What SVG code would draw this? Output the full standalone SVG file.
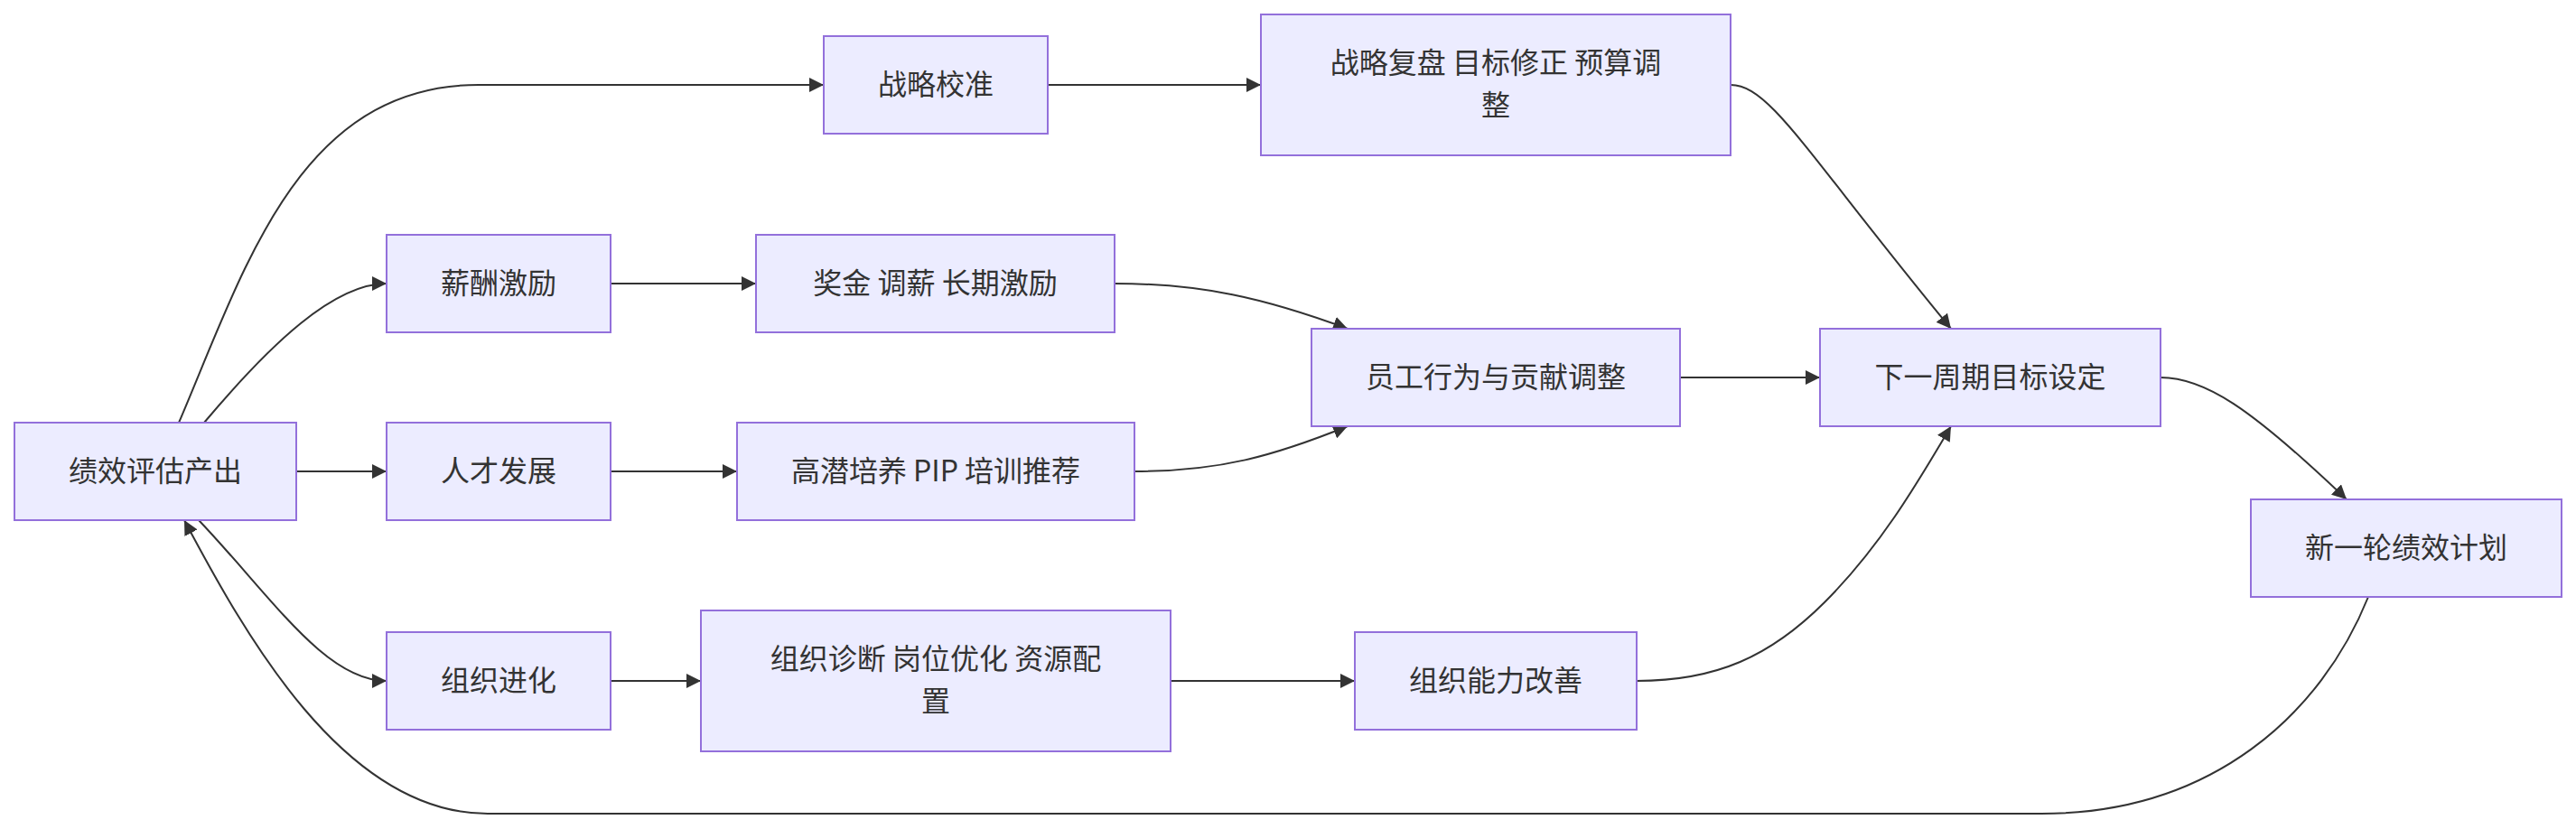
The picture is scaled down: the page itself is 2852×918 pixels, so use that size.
<svg xmlns="http://www.w3.org/2000/svg" width="2852" height="918" viewBox="0 0 2852 918">
<style>
.node rect{fill:#ECECFF;stroke:#9370DB;stroke-width:2}
.node text{font-family:"Noto Sans CJK SC","Noto Sans",sans-serif;font-size:32px;fill:#333333;text-anchor:middle}
.edges path{fill:none;stroke:#333333;stroke-width:2;marker-end:url(#arrow)}
</style>
<defs>
<marker id="arrow" viewBox="0 0 10 10" refX="10" refY="5" markerUnits="userSpaceOnUse" markerWidth="16" markerHeight="16" orient="auto">
<path d="M0,0 L10,5 L0,10 z" fill="#333333"/>
</marker>
</defs>
<rect width="2852" height="918" fill="#ffffff"/>
<g class="edges" id="connectors">
<path d="M198,468 C270,300 330,94 530,94 L912,94"/>
<path d="M226,468 C300,380 370,314 428,314"/>
<path d="M328,522 L428,522"/>
<path d="M220,576 C300,660 360,754 428,754"/>
<path d="M676,314 L837,314"/>
<path d="M676,522 L816,522"/>
<path d="M676,754 L776,754"/>
<path d="M1160,94 L1396,94"/>
<path d="M1234,314 C1330,314 1400,330 1492,364"/>
<path d="M1256,522 C1350,522 1410,505 1492,472"/>
<path d="M1296,754 L1500,754"/>
<path d="M1860,418 L2015,418"/>
<path d="M1916,94 C1960,94 2000,170 2160,364"/>
<path d="M1812,754 C1900,754 1960,727 2020,667 C2080,607 2120,540 2160,472"/>
<path d="M2392,418 C2440,418 2490,450 2598,553"/>
<path d="M2622,661 C2570,790 2450,901 2260,901 L540,901 C380,901 270,700 204,576"/>
</g>
<g class="node" id="n-jxpg"><rect x="16" y="468" width="312" height="108"/><text x="172" y="533">绩效评估产出</text></g>
<g class="node" id="n-zljz"><rect x="912" y="40" width="248" height="108"/><text x="1036" y="105">战略校准</text></g>
<g class="node" id="n-xcjl"><rect x="428" y="260" width="248" height="108"/><text x="552" y="325">薪酬激励</text></g>
<g class="node" id="n-rcfz"><rect x="428" y="468" width="248" height="108"/><text x="552" y="533">人才发展</text></g>
<g class="node" id="n-zzjh"><rect x="428" y="700" width="248" height="108"/><text x="552" y="765">组织进化</text></g>
<g class="node" id="n-zlfp"><rect x="1396" y="16" width="520" height="156"/><text x="1656" y="81">战略复盘 目标修正 预算调</text><text x="1656" y="128">整</text></g>
<g class="node" id="n-jj"><rect x="837" y="260" width="397" height="108"/><text x="1035.5" y="325">奖金 调薪 长期激励</text></g>
<g class="node" id="n-gq"><rect x="816" y="468" width="440" height="108"/><text x="1036" y="533">高潜培养 PIP 培训推荐</text></g>
<g class="node" id="n-zzzd"><rect x="776" y="676" width="520" height="156"/><text x="1036" y="741">组织诊断 岗位优化 资源配</text><text x="1036" y="788">置</text></g>
<g class="node" id="n-ygxw"><rect x="1452" y="364" width="408" height="108"/><text x="1656" y="429">员工行为与贡献调整</text></g>
<g class="node" id="n-zznl"><rect x="1500" y="700" width="312" height="108"/><text x="1656" y="765">组织能力改善</text></g>
<g class="node" id="n-xyzq"><rect x="2015" y="364" width="377" height="108"/><text x="2203.5" y="429">下一周期目标设定</text></g>
<g class="node" id="n-xyl"><rect x="2492" y="553" width="344" height="108"/><text x="2664" y="618">新一轮绩效计划</text></g>
</svg>
